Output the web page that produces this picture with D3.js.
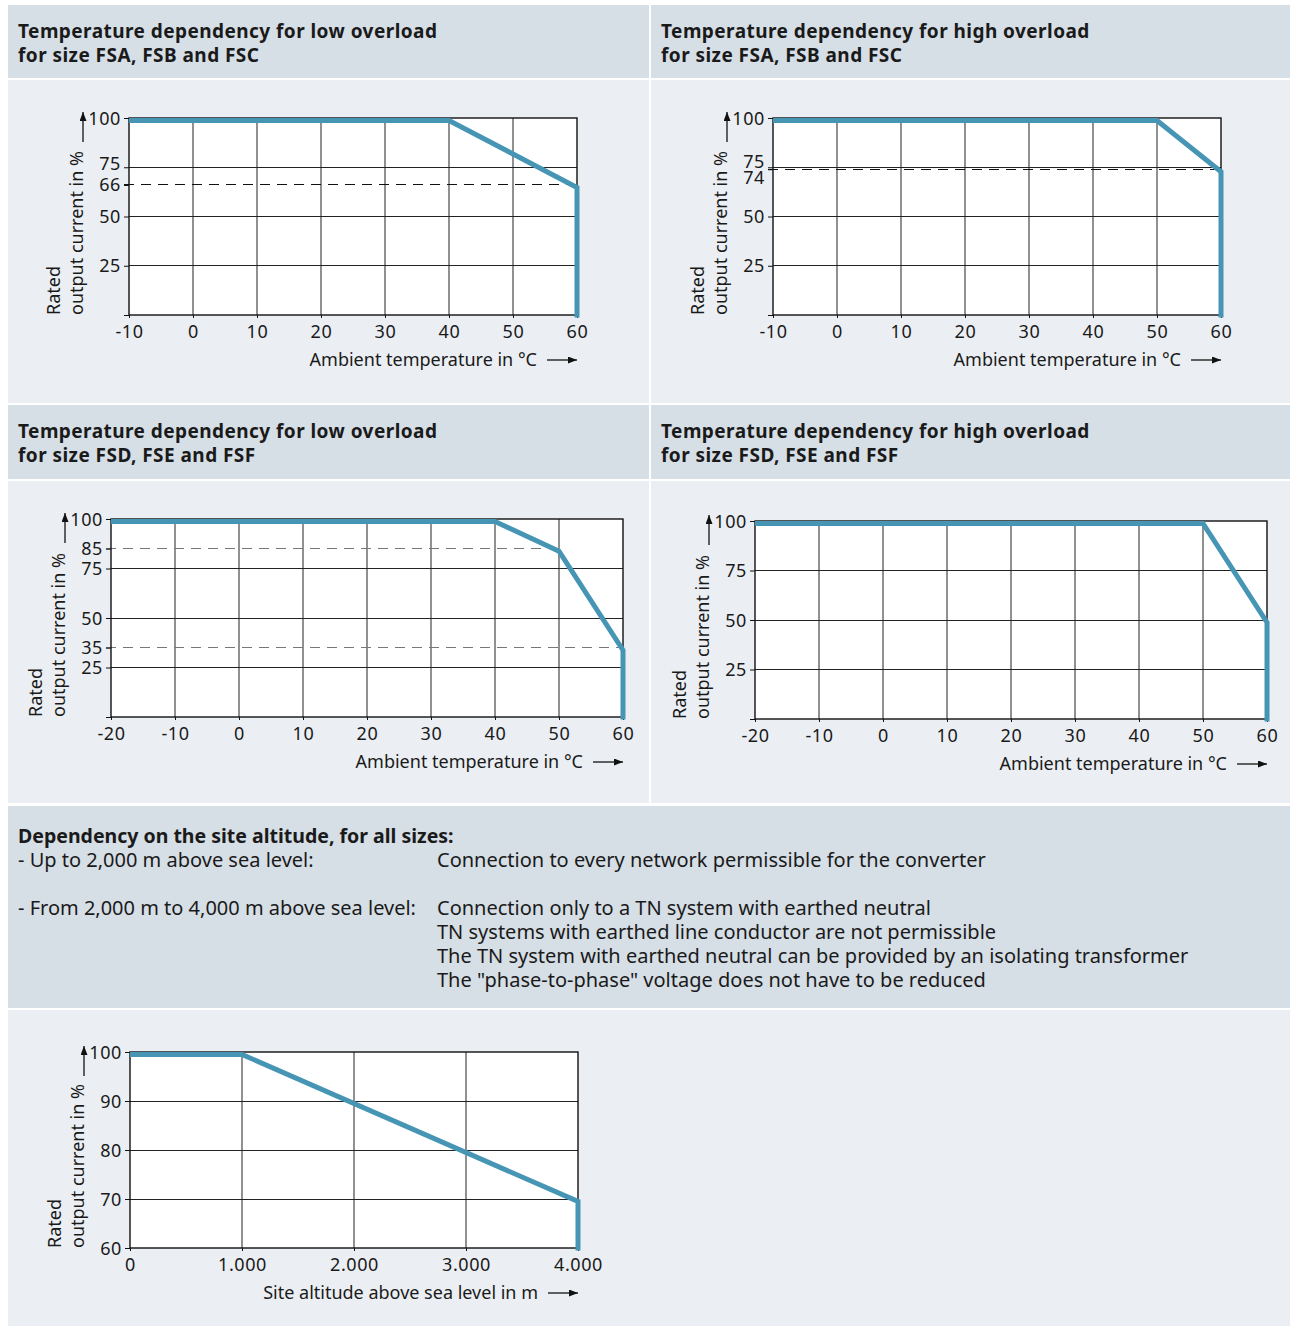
<!DOCTYPE html>
<html>
<head>
<meta charset="utf-8">
<script src="https://cdn.jsdelivr.net/npm/d3@7"></script>
<style>
  body { margin: 0; background: #fff; }
  svg text { font-family: "Noto Sans", sans-serif; fill: #1a1a1a; }
</style>
</head>
<body>
<div id="chart"></div>
<script>
// --- data ---
// low overload, FSA/FSB/FSC
var lowAbcX = [-10, 40, 60, 60];
var lowAbcY = [100, 100, 66, 0];
var lowAbcXTicks = [-10, 0, 10, 20, 30, 40, 50, 60];
var lowAbcYTicks = [100, 75, 66, 50, 25, 0];
var lowAbcDashY = [66];
var lowAbcDashTo = [60];

// high overload, FSA/FSB/FSC
var highAbcX = [-10, 50, 60, 60];
var highAbcY = [100, 100, 74, 0];
var highAbcXTicks = [-10, 0, 10, 20, 30, 40, 50, 60];
var highAbcYTicks = [100, 75, 74, 50, 25, 0];
var highAbcDashY = [74];
var highAbcDashTo = [60];

// low overload, FSD/FSE/FSF
var lowDefX = [-20, 40, 50, 60, 60];
var lowDefY = [100, 100, 85, 35, 0];
var lowDefXTicks = [-20, -10, 0, 10, 20, 30, 40, 50, 60];
var lowDefYTicks = [100, 85, 75, 50, 35, 25, 0];
var lowDefDashY = [85, 35];
var lowDefDashTo = [50, 60];

// high overload, FSD/FSE/FSF
var highDefX = [-20, 50, 60, 60];
var highDefY = [100, 100, 50, 0];
var highDefXTicks = [-20, -10, 0, 10, 20, 30, 40, 50, 60];
var highDefYTicks = [100, 75, 50, 25, 0];

// site altitude
var altX = [0, 1000, 4000, 4000];
var altY = [100, 100, 70, 60];
var altXTicks = [0, 1000, 2000, 3000, 4000];
var altYTicks = [100, 90, 80, 70, 60];

var altLines = [
  ["- Up to 2,000 m above sea level:", "Connection to every network permissible for the converter"],
  ["", ""],
  ["- From 2,000 m to 4,000 m above sea level:", "Connection only to a TN system with earthed neutral"],
  ["", "TN systems with earthed line conductor are not permissible"],
  ["", "The TN system with earthed neutral can be provided by an isolating transformer"],
  ["", "The \"phase-to-phase\" voltage does not have to be reduced"]
];

var blue = "#4795b4";
var headBg = "#d6dee6";
var bodyBg = "#ebeff3";
var tickSize = "18px";
var labSize = "18px";

var svg = d3.select("#chart").append("svg")
    .attr("width", 1290)
    .attr("height", 1326);

svg.append("defs").append("marker")
    .attr("id", "arr")
    .attr("markerUnits", "userSpaceOnUse")
    .attr("markerWidth", 10).attr("markerHeight", 8)
    .attr("refX", 9).attr("refY", 3.5)
    .attr("orient", "auto")
  .append("path")
    .attr("d", "M0,0 L9,3.5 L0,7 z")
    .attr("fill", "#111");

// panel backgrounds
var panels = [
  [8, 5, 641, 73, headBg], [651, 5, 639, 73, headBg],
  [8, 80, 641, 323, bodyBg], [651, 80, 639, 323, bodyBg],
  [8, 405, 641, 74, headBg], [651, 405, 639, 74, headBg],
  [8, 481, 641, 322, bodyBg], [651, 481, 639, 322, bodyBg],
  [8, 806, 1282, 202, headBg],
  [8, 1010, 1282, 316, bodyBg]
];
svg.selectAll("rect.panel").data(panels).enter().append("rect")
    .attr("class", "panel")
    .attr("x", d => d[0]).attr("y", d => d[1])
    .attr("width", d => d[2]).attr("height", d => d[3])
    .attr("fill", d => d[4]);

function title(x, y, lines) {
  lines.forEach(function(t, i) {
    svg.append("text")
      .attr("x", x).attr("y", y + i * 24)
      .style("font-size", "19px").style("font-weight", "bold")
      .style("letter-spacing", "0.45px")
      .text(t);
  });
}
title(18, 38, ["Temperature dependency for low overload", "for size FSA, FSB and FSC"]);
title(661, 38, ["Temperature dependency for high overload", "for size FSA, FSB and FSC"]);
title(18, 438, ["Temperature dependency for low overload", "for size FSD, FSE and FSF"]);
title(661, 438, ["Temperature dependency for high overload", "for size FSD, FSE and FSF"]);

// altitude text block
svg.append("text").attr("x", 18).attr("y", 843)
    .style("font-size", "19.5px").style("font-weight", "bold")
    .text("Dependency on the site altitude, for all sizes:");
altLines.forEach(function(r, i) {
  var yy = 867 + i * 24;
  svg.append("text").attr("x", 18).attr("y", yy).style("font-size", "20px").text(r[0]);
  svg.append("text").attr("x", 437).attr("y", yy).style("font-size", "20px").text(r[1]);
});

var dotFmt = d3.formatLocale({ decimal: ",", thousands: ".", grouping: [3], currency: ["", ""] }).format(",");

function drawChart(o) {
  var x = d3.scaleLinear().domain(o.xDomain).range([o.left, o.right]);
  var y = d3.scaleLinear().domain(o.yDomain).range([o.bottom, o.top]);
  var g = svg.append("g");

  // white plot area
  g.append("rect")
      .attr("x", o.left).attr("y", o.top)
      .attr("width", o.right - o.left).attr("height", o.bottom - o.top)
      .attr("fill", "#fff");

  // vertical grid
  g.selectAll(".vg").data(o.xTicks.slice(1, -1)).enter().append("line")
      .attr("x1", d => x(d)).attr("x2", d => x(d))
      .attr("y1", o.top).attr("y2", o.bottom)
      .attr("stroke", "#555").attr("stroke-width", 1.3);

  // horizontal grid
  var grid = o.yTicks.filter(v => v != o.yDomain[0] && v != o.yDomain[1] && o.dashY.indexOf(v) < 0);
  g.selectAll(".hg").data(grid).enter().append("line")
      .attr("x1", o.left).attr("x2", o.right)
      .attr("y1", d => y(d)).attr("y2", d => y(d))
      .attr("stroke", "#222").attr("stroke-width", 1)
      .attr("shape-rendering", "crispEdges");

  // dashed reference lines
  g.selectAll(".dl").data(o.dashY).enter().append("line")
      .attr("x1", o.left - 5).attr("x2", (d, i) => x(o.dashTo[i]))
      .attr("y1", d => y(d)).attr("y2", d => y(d))
      .attr("stroke", o.dashColor).attr("stroke-width", o.dashWidth)
      .attr("stroke-dasharray", "10,7")
      .attr("shape-rendering", "crispEdges");

  // axes
  var yAx = g.append("g")
      .attr("transform", "translate(" + o.left + ",0)")
      .call(d3.axisLeft(y).tickValues(o.yTicks).tickSize(5).tickPadding(3)
        .tickFormat(d => (d == 0 ? "" : d)));
  yAx.select(".domain").remove();
  yAx.selectAll("text").style("font-size", tickSize).style("letter-spacing", "0.6px")
      .attr("fill", "#1a1a1a")
      .attr("dy", d => (o.yShift && o.yShift[d] ? o.yShift[d] : 0) + 6 + "px");
  yAx.selectAll("line").attr("stroke", "#111");

  var xAx = g.append("g")
      .attr("transform", "translate(0," + o.bottom + ")")
      .call(d3.axisBottom(x).tickValues(o.xTicks).tickSize(3).tickPadding(7)
        .tickFormat(o.xFmt || (d => d)));
  xAx.select(".domain").remove();
  xAx.selectAll("text").style("font-size", tickSize).style("letter-spacing", "0.6px")
      .attr("fill", "#1a1a1a");
  xAx.selectAll("line").attr("stroke", "#111");

  // frame
  g.append("rect")
      .attr("x", o.left).attr("y", o.top)
      .attr("width", o.right - o.left).attr("height", o.bottom - o.top)
      .attr("fill", "none").attr("stroke", "#111").attr("stroke-width", 1.4);

  // curve
  var pts = o.xs.map((v, i) => [v, o.ys[i]]);
  g.append("path")
      .datum(pts)
      .attr("d", d3.line().x(d => x(d[0])).y(d => y(d[1])))
      .attr("transform", "translate(0,2.5)")
      .attr("fill", "none").attr("stroke", blue)
      .attr("stroke-width", 5).attr("stroke-linejoin", "miter");

  // y title
  g.append("text")
      .attr("transform", "translate(" + (o.left - 69) + "," + o.bottom + ") rotate(-90)")
      .style("font-size", labSize).text("Rated");
  g.append("text")
      .attr("transform", "translate(" + (o.left - 46) + "," + o.bottom + ") rotate(-90)")
      .style("font-size", labSize).text("output current in %");
  g.append("line")
      .attr("x1", o.left - 46).attr("x2", o.left - 46)
      .attr("y1", o.top + 24).attr("y2", o.top - 6)
      .attr("stroke", "#111").attr("stroke-width", 1.3)
      .attr("marker-end", "url(#arr)");

  // x title
  g.append("text")
      .attr("x", o.right - 40).attr("y", o.bottom + 51)
      .attr("text-anchor", "end")
      .style("font-size", labSize).text(o.xTitle);
  g.append("line")
      .attr("x1", o.right - 30).attr("x2", o.right)
      .attr("y1", o.bottom + 45).attr("y2", o.bottom + 45)
      .attr("stroke", "#111").attr("stroke-width", 1.3)
      .attr("marker-end", "url(#arr)");
}

var tTitle = "Ambient temperature in \u00B0C";

drawChart({ left: 129, right: 577, top: 118, bottom: 315,
  xDomain: [-10, 60], yDomain: [0, 100], xTicks: lowAbcXTicks, yTicks: lowAbcYTicks,
  xs: lowAbcX, ys: lowAbcY, dashY: lowAbcDashY, dashTo: lowAbcDashTo,
  dashColor: "#111", dashWidth: 1, yShift: { 75: -4 }, xTitle: tTitle });

drawChart({ left: 773, right: 1221, top: 118, bottom: 315,
  xDomain: [-10, 60], yDomain: [0, 100], xTicks: highAbcXTicks, yTicks: highAbcYTicks,
  xs: highAbcX, ys: highAbcY, dashY: highAbcDashY, dashTo: highAbcDashTo,
  dashColor: "#111", dashWidth: 1, yShift: { 75: -6, 74: 8 }, xTitle: tTitle });

drawChart({ left: 111, right: 623, top: 519, bottom: 717,
  xDomain: [-20, 60], yDomain: [0, 100], xTicks: lowDefXTicks, yTicks: lowDefYTicks,
  xs: lowDefX, ys: lowDefY, dashY: lowDefDashY, dashTo: lowDefDashTo,
  dashColor: "#777", dashWidth: 1.5, xTitle: tTitle });

drawChart({ left: 755, right: 1267, top: 521, bottom: 719,
  xDomain: [-20, 60], yDomain: [0, 100], xTicks: highDefXTicks, yTicks: highDefYTicks,
  xs: highDefX, ys: highDefY, dashY: [], dashTo: [],
  dashColor: "#777", dashWidth: 1.5, xTitle: tTitle });

drawChart({ left: 130, right: 578, top: 1052, bottom: 1248,
  xDomain: [0, 4000], yDomain: [60, 100], xTicks: altXTicks, yTicks: altYTicks,
  xs: altX, ys: altY, dashY: [], dashTo: [], xFmt: dotFmt,
  dashColor: "#777", dashWidth: 1.5, xTitle: "Site altitude above sea level in m" });
</script>
</body>
</html>
